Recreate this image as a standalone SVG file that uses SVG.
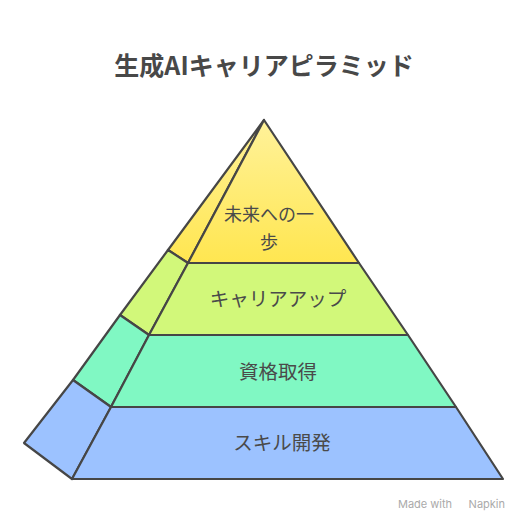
<svg xmlns="http://www.w3.org/2000/svg" width="528" height="528" viewBox="0 0 528 528">
<defs>
<linearGradient id="gy" x1="0" y1="0" x2="0" y2="1"><stop offset="0" stop-color="#FFF29A"/><stop offset="1" stop-color="#FFE650"/></linearGradient>
<style>
.f{stroke:#464646;stroke-width:2.2;stroke-linejoin:round}
.t{font-family:"Noto Sans CJK JP","Noto Sans",sans-serif;font-size:19.5px;fill:#4a4a4a;text-anchor:middle}
.title{font-family:"Noto Sans CJK JP","Noto Sans",sans-serif;font-size:25px;font-weight:bold;fill:#484848;text-anchor:middle}
.wm{font-family:Inter,"Noto Sans",sans-serif;font-size:11px;fill:#aaaaaa}
</style>
</defs>
<rect width="528" height="528" fill="#fff"/>
<text class="title" x="264" y="75">生成AIキャリアピラミッド</text>
<g id="level4">
<path class="f" d="M264 120 L168 250 L188 263 Z" fill="url(#gy)"/>
<path class="f" d="M264 120 L188 263 L359 263 Z" fill="url(#gy)"/>
<text class="t" x="269" y="221" style="font-size:18px">未来への一</text>
<text class="t" x="269" y="249" style="font-size:18px">歩</text>
</g>
<g id="level3">
<path class="f" d="M168 250 L120 315 L149 335 L188 263 Z" fill="#D2F87A"/>
<path class="f" d="M188 263 L149 335 L408 335 L359 263 Z" fill="#D2F87A"/>
<text class="t" x="278" y="306">キャリアアップ</text>
</g>
<g id="level2">
<path class="f" d="M120 315 L73 380 L111 407 L149 335 Z" fill="#80F8C3"/>
<path class="f" d="M149 335 L111 407 L456 407 L408 335 Z" fill="#80F8C3"/>
<text class="t" x="278" y="379">資格取得</text>
</g>
<g id="level1">
<path class="f" d="M73 380 L24 443 L72 479 L111 407 Z" fill="#9CC2FF"/>
<path class="f" d="M111 407 L72 479 L503 479 L456 407 Z" fill="#9CC2FF"/>
<text class="t" x="282" y="450">スキル開発</text>
</g>
<g id="connectors"></g>
<text class="wm" x="398" y="508">Made with</text>
<text class="wm" x="505" y="508" text-anchor="end">Napkin</text>
</svg>
